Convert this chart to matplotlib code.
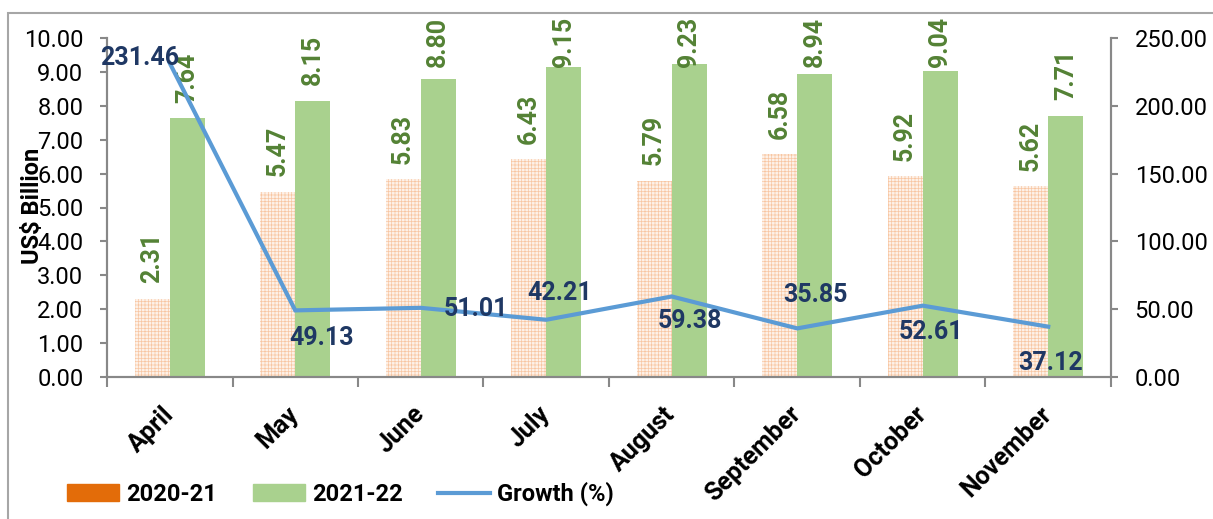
import numpy as np
import matplotlib
matplotlib.use("Agg")
import matplotlib.pyplot as plt
from matplotlib.patches import Patch, Rectangle
from matplotlib.lines import Line2D

plt.rcParams["font.family"] = ["Roboto", "DejaVu Sans"]
plt.rcParams["hatch.linewidth"] = 0.5

# data
months = ["April", "May", "June", "July", "August", "September", "October", "November"]
exports_2020 = [2.31, 5.47, 5.83, 6.43, 5.79, 6.58, 5.92, 5.62]
exports_2021 = [7.64, 8.15, 8.80, 9.15, 9.23, 8.94, 9.04, 7.71]
growth = [231.46, 49.13, 51.01, 42.21, 59.38, 35.85, 52.61, 37.12]

# label offsets for the growth values (points)
growth_offsets = [(-22, 4), (19, -20), (40, -1), (10, 19), (13, -18), (13, 24), (6, -19), (2, -26)]

GREEN = "#A9D18E"
ORANGE = "#E36C09"
LINE = "#5B9BD5"
LABEL_GREEN = "#548235"
NAVY = "#1F3864"
AXIS = "#888888"

fig = plt.figure(figsize=(12.13, 5.19), dpi=100)
ax = fig.add_axes([107 / 1213, 1 - 377 / 519, (1111 - 107) / 1213, (377 - 38) / 519])
ax2 = ax.twinx()

x = np.arange(len(months))
w = 0.28
ax.bar(x - w / 2, exports_2020, w, facecolor="#FEF1E8", edgecolor="#F8C6A2",
       hatch="+++++", linewidth=0)
ax.bar(x + w / 2, exports_2021, w, color=GREEN, linewidth=0)

for xi, v in zip(x, exports_2020):
    ax.annotate(f"{v:.2f}", (xi - w / 2, v), xytext=(0, 11), textcoords="offset points",
                rotation=90, ha="center", va="bottom", fontsize=18, fontweight="bold",
                color=LABEL_GREEN)
for xi, v in zip(x, exports_2021):
    ax.annotate(f"{v:.2f}", (xi + w / 2, min(v, 8.70)), xytext=(0, 11), textcoords="offset points",
                rotation=90, ha="center", va="bottom", fontsize=18, fontweight="bold",
                color=LABEL_GREEN, annotation_clip=False)

ax2.plot(x, growth, color=LINE, lw=3, solid_joinstyle="miter")
for xi, g, off in zip(x, growth, growth_offsets):
    ax2.annotate(f"{g:.2f}", (xi, g), xytext=off, textcoords="offset points",
                 ha="center", va="center", fontsize=18, fontweight="bold", color=NAVY)

ax.set_xlim(-0.5, len(months) - 0.5)
ax.set_ylim(0, 10)
ax2.set_ylim(0, 250)
ax.set_yticks(np.arange(0, 10.01, 1))
ax.set_yticklabels([f"{t:.2f}" for t in np.arange(0, 10.01, 1)])
ax2.set_yticks(np.arange(0, 250.1, 50))
ax2.set_yticklabels([f"{t:.2f}" for t in np.arange(0, 250.1, 50)])

ax.set_xticks(x)
ax.set_xticklabels(months, rotation=45, ha="right", va="center", rotation_mode="anchor",
                   fontsize=18, fontweight="bold")
ax.set_xticks(np.arange(-0.5, len(months)), minor=True)
ax.tick_params(axis="x", which="major", length=0, pad=24)
ax.tick_params(axis="x", which="minor", length=7, width=1.5, color=AXIS)
ax.tick_params(axis="y", length=5, width=1.5, color=AXIS, labelsize=17, pad=12)
ax2.tick_params(axis="y", length=5, width=1.5, color=AXIS, labelsize=17, pad=12)

for a in (ax, ax2):
    a.spines["top"].set_visible(False)
    for s in ("left", "right", "bottom"):
        a.spines[s].set_color(AXIS)
        a.spines[s].set_linewidth(1.5)
ax.patch.set_visible(False)

fig.text(33 / 1213, 1 - 206 / 519, "US$ Billion", rotation=90, ha="center", va="center",
         fontsize=17, fontweight="bold")

handles = [Patch(color=ORANGE), Patch(color=GREEN), Line2D([], [], color=LINE, lw=3)]
fig.legend(handles, ["2020-21", "2021-22", "Growth (%)"], loc="center left",
           bbox_to_anchor=(58 / 1213, 1 - 494 / 519), ncol=3, frameon=False,
           prop={"size": 17, "weight": "bold"}, handlelength=2.2, handleheight=0.7,
           handletextpad=0.3, columnspacing=1.5, borderaxespad=0)

fig.patches.append(Rectangle((8 / 1213, -0.1), 1.2, 1.1 - 13 / 519,
                             transform=fig.transFigure, fill=False, edgecolor="#A6A6A6",
                             linewidth=1.5))

fig.savefig("out.png", dpi=100)
